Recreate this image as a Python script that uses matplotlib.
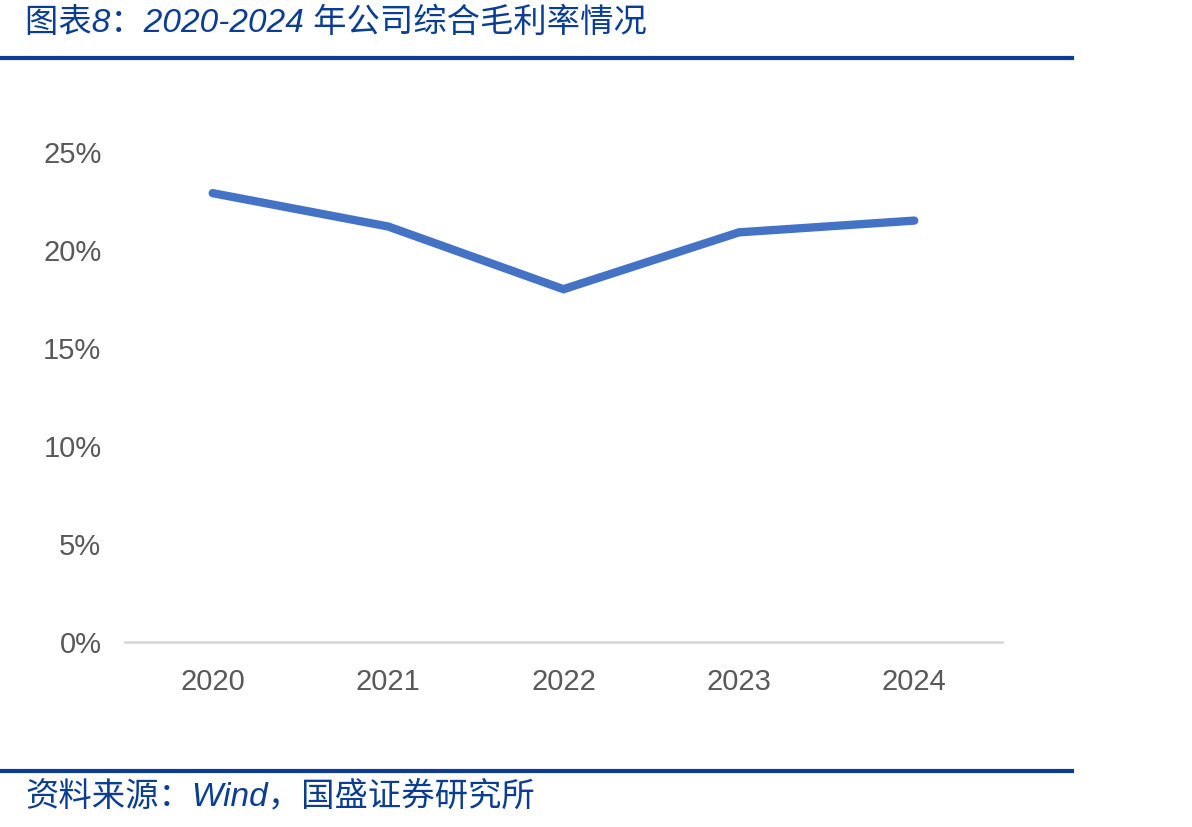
import matplotlib
matplotlib.use('Agg')
import matplotlib.pyplot as plt
from matplotlib.lines import Line2D
from matplotlib.ticker import FuncFormatter

years = ['2020', '2021', '2022', '2023', '2024']
gross_margin = [22.9, 21.2, 18.0, 20.9, 21.5]  # %
yticks = [0, 5, 10, 15, 20, 25]

title = '图表8：2020-2024 年公司综合毛利率情况'
source = '资料来源：Wind，国盛证券研究所'

blue_dark = '#0b3e92'
line_blue = '#4472C4'
grey = '#595959'
fonts = ['Liberation Sans', 'Noto Sans CJK SC']

fig = plt.figure(figsize=(11.92, 8.27), dpi=100)
ax = fig.add_axes([125 / 1192, 1 - 642 / 827, 877 / 1192, 490 / 827])

x = list(range(len(years)))
ax.plot(x, gross_margin, color=line_blue, linewidth=6, solid_capstyle='round',
        solid_joinstyle='miter')

ax.set_xlim(-0.5, len(years) - 0.5)
ax.set_ylim(0, 25)
ax.set_xticks(x)
ax.set_xticklabels(years)
ax.set_yticks(yticks)
ax.yaxis.set_major_formatter(FuncFormatter(lambda v, p: '%d%%' % v))

for s in ['top', 'right', 'left']:
    ax.spines[s].set_visible(False)
ax.spines['bottom'].set_color('#d9d9d9')
ax.spines['bottom'].set_linewidth(2)
ax.tick_params(axis='both', length=0, colors=grey, labelsize=21)
ax.tick_params(axis='y', pad=17)
ax.tick_params(axis='x', pad=19)
for lab in ax.get_xticklabels() + ax.get_yticklabels():
    lab.set_family(fonts)

# title and source, with the blue rules
fig.text(25 / 1192, 1 - 23 / 827, title, fontsize=24, style='italic',
         color=blue_dark, family=fonts, va='center', ha='left')
fig.add_artist(Line2D([0, 1072 / 1192], [1 - 58 / 827] * 2, color=blue_dark,
                      linewidth=3, transform=fig.transFigure))
fig.add_artist(Line2D([0, 1072 / 1192], [1 - 771 / 827] * 2, color=blue_dark,
                      linewidth=3, transform=fig.transFigure))
fig.text(25 / 1192, 1 - 797 / 827, source, fontsize=24, style='italic',
         color=blue_dark, family=fonts, va='center', ha='left')

fig.savefig('out.png', dpi=100)
plt.close('all')
